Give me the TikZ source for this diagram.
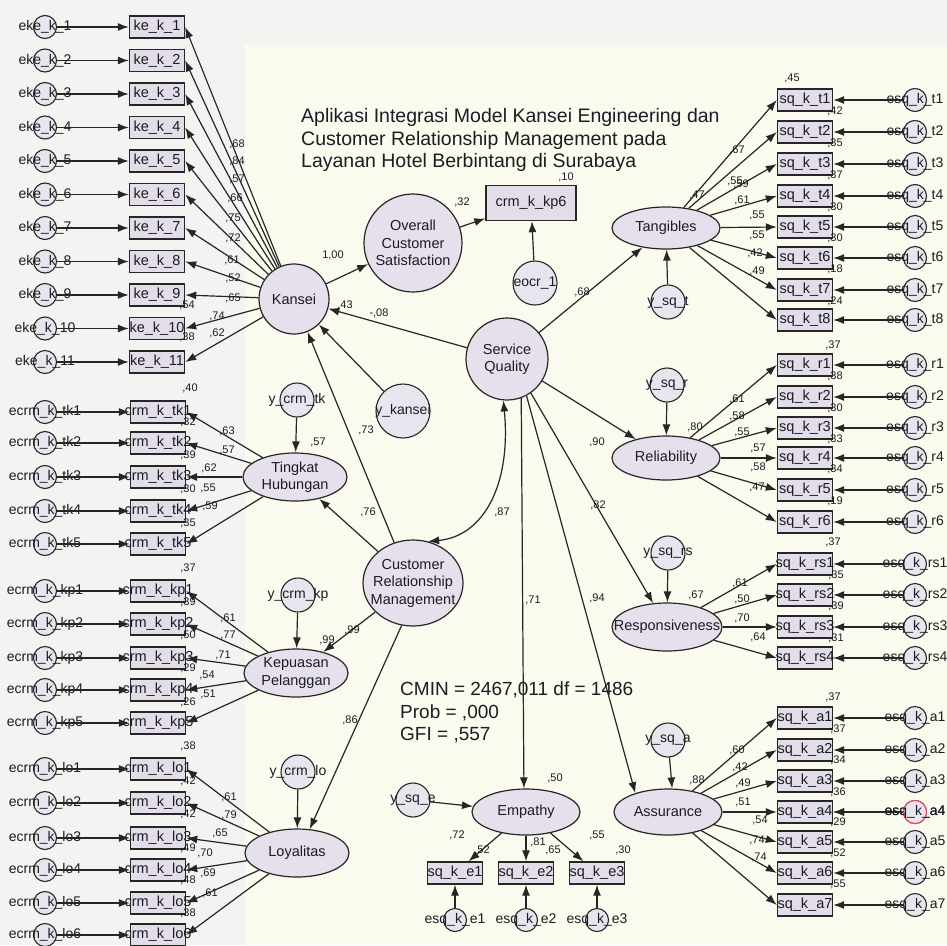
\documentclass[tikz,border=0pt]{standalone}
\usepackage{fontspec}
\setmainfont{Liberation Sans}
\usetikzlibrary{shapes.geometric,arrows.meta}
\definecolor{bgA}{HTML}{F3F3F1}
\definecolor{bgB}{HTML}{FAFAEE}
\definecolor{latfill}{HTML}{E5E0EC}
\definecolor{obsfill}{HTML}{E2DDE8}
\definecolor{errfill}{HTML}{E9E5EF}
\definecolor{edge}{HTML}{262626}
\definecolor{txt}{HTML}{1C1C24}
\definecolor{hot}{HTML}{E8475F}
\newcommand{\fsz}[1]{\fontsize{#1}{#1}\selectfont}
\newcommand{\ov}[1]{\makebox[0pt]{#1}}
\begin{document}
\begin{tikzpicture}[x=1pt,y=-1pt,
  >={Latex[length=11pt,width=8pt]},
  lat/.style={ellipse, draw=edge, fill=latfill, line width=1.2pt, inner sep=0pt},
  ltxt/.style={font=\fontsize{14.5}{17.5}\selectfont, align=center, text=txt, inner sep=0pt},
  obs/.style={rectangle, draw=edge, fill=obsfill, line width=1.4pt, minimum width=55pt, minimum height=22pt, inner sep=0pt, font=\fsz{14.5}, text=txt},
  err/.style={circle, draw=edge, fill=errfill, line width=1.1pt, minimum size=23pt, inner sep=0pt, font=\fsz{14}, text=txt},
  dst/.style={circle, draw=edge, fill=errfill, line width=1.1pt, minimum size=34pt, inner sep=0pt, font=\fsz{14}, text=txt},
  num/.style={font=\fsz{11}, text=txt, inner sep=0pt},
  big/.style={font=\fsz{19.5}, text=txt, inner sep=0pt, anchor=base west},
  pth/.style={->, draw=edge, line width=1.2pt}]

\fill[bgA] (0,0) rectangle (947,945);
\fill[bgB] (245,45) rectangle (947,945);
\useasboundingbox (0,0) rectangle (947,945);

% ---------- title and fit ----------
\node[big] (t1) at (301,122) {Aplikasi Integrasi Model Kansei Engineering dan};
\node[big] (t2) at (301,145) {Customer Relationship Management pada};
\node[big] (t3) at (301,167) {Layanan Hotel Berbintang di Surabaya};
\node[big, font=\fsz{19}] (f1) at (400,695) {CMIN = 2467,011 df = 1486};
\node[big, font=\fsz{19}] (f2) at (400,718) {Prob = ,000};
\node[big, font=\fsz{19}] (f3) at (400,740) {GFI = ,557};

% ---------- latent variables ----------
\node[lat, circle, minimum size=70pt, label={[ltxt]center:Kansei}] (kan) at (294,299) {};
\node[lat, circle, minimum size=98pt, label={[ltxt]center:Overall\\Customer\\Satisfaction}] (ocs) at (413,243) {};
\node[lat, circle, minimum size=82pt, label={[ltxt]center:Service\\Quality}] (sq) at (507,359) {};
\node[lat, minimum width=100pt, minimum height=86pt, label={[ltxt]center:Customer\\Relationship\\Management}] (crm) at (413,583) {};
\node[lat, minimum width=104pt, minimum height=48pt, label={[ltxt]center:Tingkat\\Hubungan}] (tk) at (295,477) {};
\node[lat, minimum width=104pt, minimum height=48pt, label={[ltxt]center:Kepuasan\\Pelanggan}] (kp) at (296,673) {};
\node[lat, minimum width=104pt, minimum height=48pt, label={[ltxt]center:Loyalitas}] (lo) at (297,853) {};
\node[lat, minimum width=108pt, minimum height=42pt, label={[ltxt]center:Tangibles}] (tan) at (666,228) {};
\node[lat, minimum width=108pt, minimum height=44pt, label={[ltxt]center:Reliability}] (rel) at (666,458) {};
\node[lat, minimum width=110pt, minimum height=48pt, label={[ltxt]center:Responsiveness}] (res) at (667,627) {};
\node[lat, minimum width=108pt, minimum height=46pt, label={[ltxt]center:Assurance}] (asu) at (668,812) {};
\node[lat, minimum width=108pt, minimum height=46pt, label={[ltxt]center:Empathy}] (emp) at (526,812) {};

% ---------- disturbances ----------
\node[dst, minimum size=54pt] (ykan) at (403,411) {\ov{y\_kansei}};
\node[dst] (ytk) at (297,400) {\ov{y\_crm\_tk}};
\node[dst] (ykp) at (298,595) {\ov{y\_crm\_kp}};
\node[dst] (ylo) at (298,772) {\ov{y\_crm\_lo}};
\node[dst] (yt) at (668,302) {\ov{y\_sq\_t}};
\node[dst] (yr) at (667,385) {\ov{y\_sq\_r}};
\node[dst] (yrs) at (668,553) {\ov{y\_sq\_rs}};
\node[dst] (ya) at (668,740) {\ov{y\_sq\_a}};
\node[dst] (ye) at (413,800) {\ov{y\_sq\_e}};

% ---------- crm_k_kp6 ----------
\node[obs, minimum width=90pt, minimum height=35pt] (kp6) at (531,203) {crm\_k\_kp6};
\node[dst, minimum size=44pt] (eocr) at (535,283) {\ov{eocr\_1}};
\draw[pth] (eocr) -- (kp6);
\draw[pth] (ocs) -- (kp6);
\draw[pth] (kan) -- (ocs);

% ---------- Kansei indicators ----------
\foreach \i in {1,...,11} {
  \pgfmathsetmacro\yy{27+33.5*(\i-1)}
  \node[obs] (kb\i) at (157,\yy) {\ov{ke\_k\_\i}};
  \node[err] (ke\i) at (45,\yy) {\ov{eke\_k\_\i}};
  \draw[pth] (ke\i) -- (kb\i);
  \draw[pth] (kan) -- (kb\i.east);
}
% Tingkat Hubungan
\foreach \i/\yy in {1/412,2/443,3/477,4/511,5/544} {
  \node[obs] (tkb\i) at (158,\yy) {\ov{crm\_k\_tk\i}};
  \node[err] (tke\i) at (45,\yy) {\ov{ecrm\_k\_tk\i}};
  \draw[pth] (tke\i) -- (tkb\i);
  \draw[pth] (tk) -- (tkb\i.east);
}
% Kepuasan Pelanggan
\foreach \i/\yy in {1/591,2/624,3/658,4/690,5/723} {
  \node[obs] (kpb\i) at (158,\yy) {\ov{crm\_k\_kp\i}};
  \node[err] (kpe\i) at (45,\yy) {\ov{ecrm\_k\_kp\i}};
  \draw[pth] (kpe\i) -- (kpb\i);
  \draw[pth] (kp) -- (kpb\i.east);
}
% Loyalitas
\foreach \i/\yy in {1/769,2/803,3/838,4/870,5/903,6/935} {
  \node[obs] (lob\i) at (158,\yy) {\ov{crm\_k\_lo\i}};
  \node[err] (loe\i) at (45,\yy) {\ov{ecrm\_k\_lo\i}};
  \draw[pth] (loe\i) -- (lob\i);
  \draw[pth] (lo) -- (lob\i.east);
}
% Tangibles
\foreach \i/\yy in {1/100,2/132,3/164,4/196,5/227,6/258,7/290,8/320} {
  \node[obs] (tb\i) at (805,\yy) {\ov{sq\_k\_t\i}};
  \node[err] (te\i) at (915,\yy) {\ov{esq\_k\_t\i}};
  \draw[pth] (te\i) -- (tb\i);
  \draw[pth] (tan) -- (tb\i.west);
}
% Reliability
\foreach \i/\yy in {1/365,2/397,3/428,4/458,5/490,6/522} {
  \node[obs] (rb\i) at (805,\yy) {\ov{sq\_k\_r\i}};
  \node[err] (re\i) at (915,\yy) {\ov{esq\_k\_r\i}};
  \draw[pth] (re\i) -- (rb\i);
  \draw[pth] (rel) -- (rb\i.west);
}
% Responsiveness
\foreach \i/\yy in {1/564,2/595,3/627,4/658} {
  \node[obs] (sb\i) at (805,\yy) {\ov{sq\_k\_rs\i}};
  \node[err] (se\i) at (915,\yy) {\ov{esq\_k\_rs\i}};
  \draw[pth] (se\i) -- (sb\i);
  \draw[pth] (res) -- (sb\i.west);
}
% Assurance
\foreach \i/\yy in {1/718,2/750,3/781,4/812,5/842,6/873,7/905} {
  \node[obs] (ab\i) at (805,\yy) {\ov{sq\_k\_a\i}};
  \node[err] (ae\i) at (915,\yy) {\ov{esq\_k\_a\i}};
  \draw[pth] (ae\i) -- (ab\i);
  \draw[pth] (asu) -- (ab\i.west);
}
\node[err, draw=hot] (ae4h) at (ae4) {};
\node[font=\fsz{14}, text=txt, inner sep=0pt] (ae4t) at (ae4) {\ov{esq\_k\_a4}};
\draw[pth] (ae4h) -- (ab4);
% Empathy
\foreach \i/\xx in {1/455,2/526,3/597} {
  \node[obs] (eb\i) at (\xx,873) {\ov{sq\_k\_e\i}};
  \node[err] (ee\i) at (\xx,920) {\ov{esq\_k\_e\i}};
  \draw[pth] (ee\i) -- (eb\i);
  \draw[pth] (emp) -- (eb\i);
}

% ---------- structural paths ----------
\draw[pth] (sq) -- (kan);
\draw[pth] (ykan) -- (kan);
\draw[pth] (crm.115) -- (kan);
\draw[pth] (crm) -- (tk);
\draw[pth] (crm) -- (kp);
\draw[pth] (crm.-105) -- (lo.62);
\draw[pth] (sq) -- (tan);
\draw[pth] (sq) -- (rel);
\draw[pth] (sq.-55) -- (res);
\draw[pth] (sq.-70) -- (emp.95);
\draw[pth] (sq.-62) -- (asu.150);
\draw[<->, draw=edge, line width=1.2pt] (sq.265) .. controls +(8,85) and +(55,-5) .. (crm.70);
\draw[pth] (ytk) -- (tk);
\draw[pth] (ykp) -- (kp);
\draw[pth] (ylo) -- (lo);
\draw[pth] (yt) -- (tan);
\draw[pth] (yr) -- (rel);
\draw[pth] (yrs) -- (res);
\draw[pth] (ya) -- (asu.80);
\draw[pth] (ye) -- (emp);

% ---------- coefficients ----------
\foreach \t/\a/\b in {68/237/144,84/237/161,57/237/179,66/235/198,75/233/218,72/233/238,61/232/260,52/233/278,65/233/298,74/217/316,62/217/333,
  63/227/431,57/227/450,62/209/468,55/208/488,59/210/506,
  61/228/618,77/228/635,71/223/655,54/207/675,51/208/694,
  61/229/797,79/229/815,65/220/833,70/205/853,69/208/873,61/210/893,
  67/737/150,55/735/181,59/741/184,61/742/200,55/757/215,55/757/235,42/755/253,49/757/271,
  61/737/399,58/737/416,55/742/432,57/758/448,58/758/467,47/757/487,
  61/740/583,50/742/599,70/742/618,64/758/637,
  60/737/750,42/740/767,49/743/783,51/743/802,54/760/820,74/757/840,74/759/857,
  72/457/835,81/538/842,55/597/835,
  32/462/202,68/582/292,90/597/442,82/598/505,71/533/600,94/597/598,87/502/512,73/366/430,76/368/512,99/352/630,86/350/720}
  {\node[num] at (\a,\b) {,\t};}
\node[num] at (333,255) {1,00};
\node[num] at (379,313) {-,08};
% squared multiple correlations
\foreach \t/\a/\b in {10/566/177,43/345/305,57/318/442,99/327/640,47/697/195,80/695/427,67/696/595,88/697/780,50/555/778,
  52/482/850,65/553/850,30/623/850,
  40/190/388,37/188/568,38/188/746,
  54/187/305,38/187/337,32/188/422,39/188/455,30/188/489,35/188/523,
  39/188/602,50/188/635,29/188/668,26/188/702,
  42/188/781,42/188/814,49/188/848,48/188/880,38/188/913,
  45/792/78,42/835/111,35/835/143,37/835/175,30/835/207,30/835/238,18/835/269,24/835/301,
  37/833/345,38/835/376,30/835/408,33/835/439,34/835/469,19/835/501,
  37/833/542,35/836/575,39/836/606,31/836/638,
  37/833/697,37/838/729,34/838/760,36/838/792,29/838/822,52/838/853,55/838/884}
  {\node[num] at (\a,\b) {,\t};}
\end{tikzpicture}
\end{document}
